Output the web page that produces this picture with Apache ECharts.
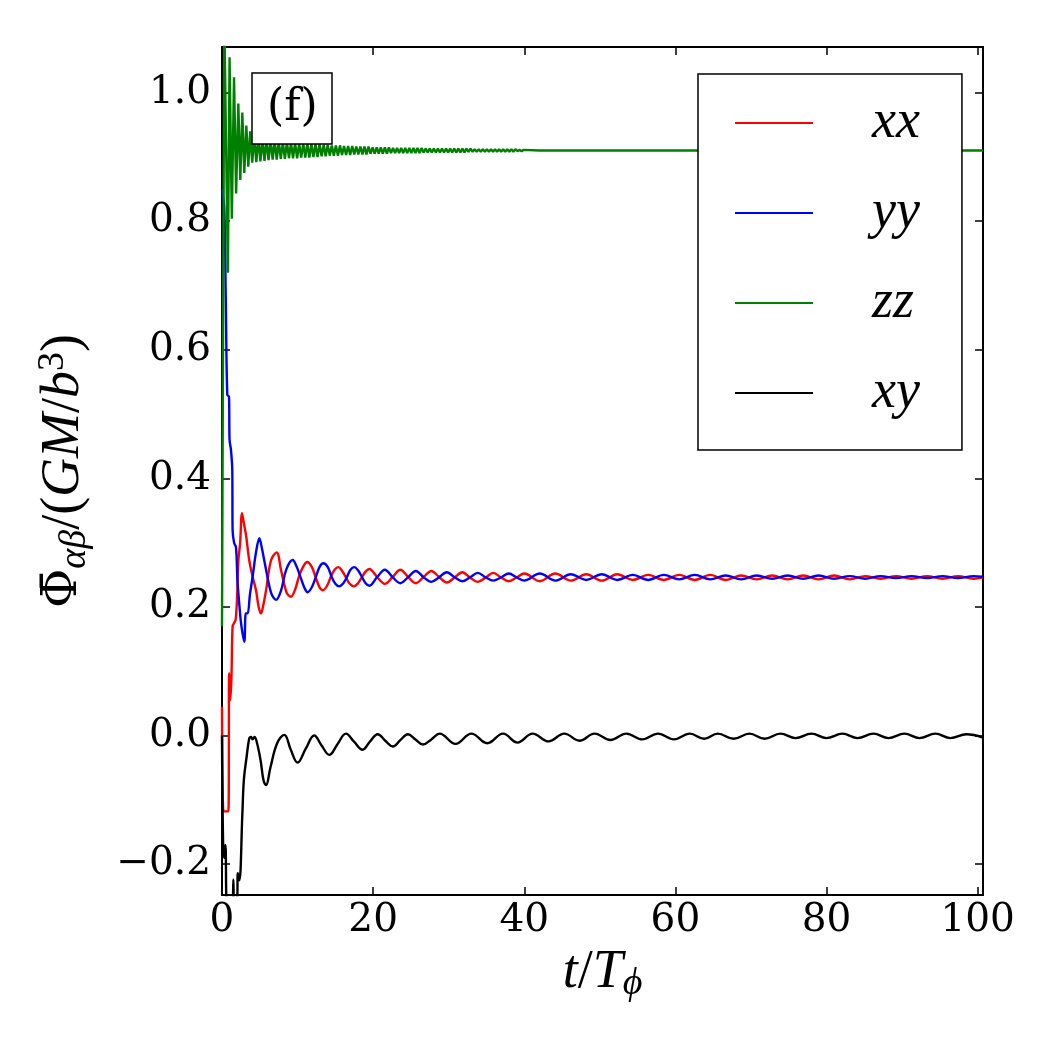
<!DOCTYPE html>
<html>
<head>
<meta charset="utf-8">
<script src="https://cdn.jsdelivr.net/npm/echarts@6/dist/echarts.min.js"></script>
<style>
html, body { margin: 0; padding: 0; background: #fff; }
#chart { width: 1050px; height: 1050px; }
</style>
</head>
<body>
<div id="chart"></div>
<script>
var seriesNames = ['xx', 'yy', 'zz', 'xy'];
var seriesColors = ['#ff0000', '#0000ff', '#008000', '#000000'];
var xTicks = [0, 20, 40, 60, 80, 100];
var yTicks = [-0.2, 0.0, 0.2, 0.4, 0.6, 0.8, 1.0];

// [t/T_phi, value]
var xxData = [
	[0, 0.045], [0.2, -0.118], [0.5, -0.118], [0.85, -0.118], [0.95, 0.097], [1.1, 0.055], [1.25, 0.09],
	[1.4, 0.170], [1.6, 0.175], [1.8, 0.180], [2.0, 0.215], [2.15, 0.270], [2.4, 0.300], [2.65, 0.346],
	[2.9, 0.330], [3.2, 0.310], [3.6, 0.273], [4.05, 0.247], [4.5, 0.226], [4.85, 0.200], [5.16, 0.190],
	[5.5, 0.205], [5.83, 0.226], [6.5, 0.273], [7.24, 0.285], [7.8, 0.258], [8.56, 0.222], [9.13, 0.216],
	[9.7, 0.228], [10.2, 0.248], [10.8, 0.264], [11.3, 0.270], [11.9, 0.262], [12.4, 0.246], [12.9, 0.231],
	[13.35, 0.226], [13.9, 0.233], [14.4, 0.247], [14.9, 0.258], [15.4, 0.262], [15.9, 0.256], [16.4, 0.246],
	[16.9, 0.236], [17.45, 0.232], [18.0, 0.237], [18.5, 0.246], [19.0, 0.255], [19.5, 0.259], [20.5, 0.247],
	[21.55, 0.236], [22.6, 0.247], [23.6, 0.258], [24.6, 0.247], [25.65, 0.237], [26.7, 0.247], [27.7, 0.256],
	[28.7, 0.247], [29.75, 0.238], [30.8, 0.246], [31.8, 0.254], [32.8, 0.246], [33.85, 0.239], [34.9, 0.246],
	[35.9, 0.253], [36.9, 0.246], [37.95, 0.240], [39.0, 0.246], [40.0, 0.252], [42.05, 0.240], [44.1, 0.252],
	[46.15, 0.241], [48.2, 0.251], [50.25, 0.241], [52.3, 0.251], [54.35, 0.242], [56.4, 0.250], [58.45, 0.242],
	[60.5, 0.250], [62.55, 0.242], [64.6, 0.250], [66.65, 0.242], [68.7, 0.249], [70.75, 0.243], [72.8, 0.249],
	[74.85, 0.243], [76.9, 0.249], [78.95, 0.243], [81.0, 0.249], [83.05, 0.243], [85.1, 0.248], [87.15, 0.244],
	[89.2, 0.248], [91.25, 0.244], [93.3, 0.248], [95.35, 0.244], [97.4, 0.248], [99.45, 0.244], [100.7, 0.246]
];

var yyData = [
	[0, 0.85], [0.3, 0.82], [0.5, 0.68], [0.7, 0.53], [0.93, 0.527], [1.0, 0.46], [1.19, 0.444], [1.36, 0.413],
	[1.4, 0.32], [1.6, 0.30], [1.85, 0.293], [2.05, 0.24], [2.25, 0.21], [2.52, 0.175], [2.95, 0.146],
	[3.15, 0.19], [3.39, 0.19], [3.7, 0.22], [4.05, 0.247], [4.5, 0.285], [4.94, 0.307], [5.3, 0.29],
	[5.83, 0.258], [6.5, 0.222], [7.15, 0.211], [7.8, 0.225], [8.5, 0.258], [9.35, 0.273], [9.9, 0.262],
	[10.4, 0.246], [10.9, 0.230], [11.34, 0.223], [11.9, 0.231], [12.4, 0.246], [12.9, 0.262], [13.42, 0.268],
	[14.0, 0.262], [14.5, 0.247], [15.0, 0.236], [15.5, 0.232], [16.0, 0.236], [16.5, 0.246], [17.0, 0.258],
	[17.5, 0.262], [18.0, 0.257], [18.5, 0.247], [19.0, 0.237], [19.5, 0.233], [20.5, 0.246], [21.55, 0.258],
	[22.6, 0.246], [23.6, 0.237], [24.6, 0.246], [25.65, 0.256], [26.7, 0.246], [27.7, 0.239], [28.7, 0.246],
	[29.75, 0.254], [30.8, 0.246], [31.8, 0.240], [32.8, 0.246], [33.85, 0.253], [34.9, 0.246], [35.9, 0.241],
	[36.9, 0.246], [37.95, 0.252], [39.0, 0.246], [40.0, 0.241], [42.05, 0.252], [44.1, 0.241], [46.15, 0.251],
	[48.2, 0.242], [50.25, 0.251], [52.3, 0.242], [54.35, 0.250], [56.4, 0.242], [58.45, 0.250], [60.5, 0.243],
	[62.55, 0.250], [64.6, 0.243], [66.65, 0.249], [68.7, 0.243], [70.75, 0.249], [72.8, 0.244], [74.85, 0.249],
	[76.9, 0.244], [78.95, 0.249], [81.0, 0.244], [83.05, 0.248], [85.1, 0.244], [87.15, 0.248], [89.2, 0.245],
	[91.25, 0.248], [93.3, 0.245], [95.35, 0.248], [97.4, 0.245], [99.45, 0.248], [100.7, 0.247]
];

var zzData = [
	[0, 0.17], [0.3, 1.12], [0.78, 0.72], [1.0, 1.055], [1.3, 0.804], [1.59, 1.024], [1.87, 0.843], [2.16, 0.983],
	[2.42, 0.864], [2.69, 0.969], [2.95, 0.875], [3.22, 0.949], [3.48, 0.885], [3.73, 0.940],
	[4.00, 0.891], [4.27, 0.932], [4.54, 0.892], [4.81, 0.930], [5.08, 0.893], [5.35, 0.928], [5.62, 0.894], [5.89, 0.927], [6.16, 0.895], [6.43, 0.926],
	[6.70, 0.896], [6.97, 0.925], [7.24, 0.896], [7.51, 0.924], [7.78, 0.897], [8.05, 0.923], [8.32, 0.897], [8.59, 0.923], [8.86, 0.898], [9.13, 0.922],
	[9.40, 0.898], [9.67, 0.922], [9.94, 0.898], [10.21, 0.921], [10.48, 0.899], [10.75, 0.921], [11.02, 0.899], [11.29, 0.921], [11.56, 0.899], [11.83, 0.920],
	[12.10, 0.900], [12.37, 0.920], [12.64, 0.900], [12.91, 0.920], [13.18, 0.901], [13.45, 0.919], [13.72, 0.901], [13.99, 0.919], [14.26, 0.902], [14.53, 0.918],
	[14.80, 0.902], [15.07, 0.918], [15.34, 0.902], [15.61, 0.918], [15.88, 0.903], [16.15, 0.917], [16.42, 0.903], [16.69, 0.917], [16.96, 0.903], [17.23, 0.917],
	[17.50, 0.904], [17.77, 0.916], [18.04, 0.904], [18.31, 0.916], [18.58, 0.904], [18.85, 0.916], [19.12, 0.904], [19.39, 0.916], [19.66, 0.905], [19.93, 0.915],
	[20.20, 0.905], [20.47, 0.915], [20.74, 0.905], [21.01, 0.915], [21.28, 0.905], [21.55, 0.915], [21.82, 0.905], [22.09, 0.915], [22.36, 0.906], [22.63, 0.914],
	[22.90, 0.906], [23.17, 0.914], [23.44, 0.906], [23.71, 0.914], [23.98, 0.906], [24.25, 0.914], [24.52, 0.906], [24.79, 0.914], [25.06, 0.906], [25.33, 0.914],
	[25.60, 0.906], [25.87, 0.914], [26.14, 0.906], [26.41, 0.914], [26.68, 0.907], [26.95, 0.913], [27.22, 0.907], [27.49, 0.913], [27.76, 0.907], [28.03, 0.913],
	[28.30, 0.907], [28.57, 0.913], [28.84, 0.907], [29.11, 0.913], [29.38, 0.907], [29.65, 0.913], [29.92, 0.907], [30.19, 0.913], [30.46, 0.907], [30.73, 0.913],
	[31.00, 0.907], [31.27, 0.913], [31.54, 0.907], [31.81, 0.913], [32.08, 0.907], [32.35, 0.913], [32.62, 0.908], [32.89, 0.913], [33.16, 0.908], [33.43, 0.912],
	[33.70, 0.908], [33.97, 0.912], [34.24, 0.908], [34.51, 0.912], [34.78, 0.908], [35.05, 0.912], [35.32, 0.908], [35.59, 0.912], [35.86, 0.908], [36.13, 0.912],
	[36.40, 0.908], [36.67, 0.912], [36.94, 0.908], [37.21, 0.912], [37.48, 0.908], [37.75, 0.912], [38.02, 0.908], [38.29, 0.912], [38.56, 0.908], [38.83, 0.912],
	[39.10, 0.909], [39.37, 0.911], [39.64, 0.909], [39.91, 0.911],
	[42, 0.910], [50, 0.910], [62, 0.910], [80, 0.910], [100.7, 0.910]
];

var xyData = [
	[0, 0.0], [0.15, -0.17], [0.3, -0.19], [0.45, -0.17], [0.7, -0.27], [1.4, -0.27], [1.5, -0.224], [1.65, -0.27],
	[2.0, -0.26], [2.1, -0.214], [2.3, -0.225], [2.7, -0.12], [2.9, -0.068], [3.26, -0.033], [3.6, -0.005],
	[3.85, -0.002], [4.05, -0.006], [4.3, -0.002], [4.6, -0.01], [5.1, -0.038], [5.5, -0.07], [5.83, -0.077],
	[6.4, -0.05], [7.3, -0.012], [8.25, 0.001], [9.1, -0.022], [10.0, -0.042], [11.1, -0.02], [12.2, 0.0],
	[13.2, -0.016], [14.2, -0.03], [15.3, -0.013], [16.4, 0.003], [17.5, -0.01], [18.6, -0.022], [19.6, -0.009],
	[20.6, 0.002], [21.6, -0.008], [22.6, -0.017], [23.6, -0.007], [24.6, 0.002], [25.6, -0.006], [26.6, -0.014],
	[27.7, -0.006], [28.8, 0.003], [30.9, -0.013], [33.0, 0.003], [35.1, -0.012], [37.2, 0.003], [39.1, -0.011],
	[41.1, 0.003], [43.2, -0.009], [45.3, 0.003], [47.3, -0.008], [49.3, 0.003], [51.4, -0.007], [53.5, 0.003],
	[55.6, -0.006], [57.7, 0.003], [59.8, -0.006], [61.9, 0.003], [63.8, -0.005], [65.6, 0.003], [67.7, -0.005],
	[69.8, 0.003], [71.8, -0.005], [73.9, 0.003], [75.9, -0.004], [78.0, 0.003], [80.0, -0.004], [82.1, 0.003],
	[84.1, -0.004], [86.2, 0.003], [88.2, -0.004], [90.3, 0.003], [92.3, -0.004], [94.4, 0.003], [96.4, -0.004],
	[98.5, 0.002], [100.7, -0.003]
];

var chart = echarts.init(document.getElementById('chart'));

var axisLineStyle = { color: '#000', width: 2 };
var tickFont = { fontFamily: 'DejaVu Serif', fontSize: 39, color: '#000' };
var mathRich = {
	it: { fontFamily: 'Liberation Serif', fontStyle: 'italic', fontSize: 54, lineHeight: 60, color: '#000' },
	n: { fontFamily: 'Liberation Serif', fontSize: 54, lineHeight: 60, color: '#000' },
	bar: { fontFamily: 'DejaVu Serif', fontSize: 48, lineHeight: 60, color: '#000' },
	sub: { fontFamily: 'Liberation Serif', fontStyle: 'italic', fontSize: 38, lineHeight: 38, verticalAlign: 'bottom', color: '#000' },
	sup: { fontFamily: 'Liberation Serif', fontSize: 38, lineHeight: 38, verticalAlign: 'top', color: '#000' }
};

function yFmt(v) {
	return (v < -1e-9 ? '\u2212' : '') + Math.abs(v).toFixed(1);
}

var smoothing = [0.35, 0.35, false, 0.4];
var datasets = [xxData, yyData, zzData, xyData];

option = {
	animation: false,
	backgroundColor: '#fff',
	title: {
		text: '(f)',
		left: 252,
		top: 73,
		padding: [12, 15, 12, 15],
		backgroundColor: '#fff',
		borderColor: '#000',
		borderWidth: 1.5,
		textStyle: { fontFamily: 'DejaVu Serif', fontSize: 44, fontWeight: 'normal', color: '#000', lineHeight: 47 }
	},
	legend: {
		orient: 'vertical',
		left: 698,
		top: 74,
		padding: [22, 42, 30, 37],
		itemGap: 36,
		itemWidth: 78,
		itemHeight: 2,
		icon: 'rect',
		backgroundColor: '#fff',
		borderColor: '#000',
		borderWidth: 1.5,
		selectedMode: false,
		textStyle: {
			fontFamily: 'Liberation Serif', fontStyle: 'italic', fontSize: 54, lineHeight: 44,
			color: '#000', padding: [0, 0, 0, 54]
		},
		data: seriesNames
	},
	grid: { left: 222, right: 67, top: 47, bottom: 155 },
	xAxis: [{
		type: 'value', min: 0, max: 100.7, position: 'bottom',
		axisLine: { onZero: false, lineStyle: axisLineStyle },
		axisTick: { inside: true, length: 8, customValues: xTicks, lineStyle: { color: '#000', width: 1.5 } },
		axisLabel: Object.assign({ customValues: xTicks, margin: 6 }, tickFont),
		splitLine: { show: false },
		name: '{it|t}{n|/}{it|T}{sub|\u03d5}',
		nameLocation: 'middle',
		nameGap: 48,
		nameTextStyle: { rich: mathRich }
	}, {
		type: 'value', min: 0, max: 100.7, position: 'top',
		axisLine: { onZero: false, lineStyle: axisLineStyle },
		axisTick: { inside: true, length: 8, customValues: xTicks, lineStyle: { color: '#000', width: 1.5 } },
		axisLabel: { show: false },
		splitLine: { show: false }
	}],
	yAxis: [{
		type: 'value', min: -0.248, max: 1.071, position: 'left',
		axisLine: { onZero: false, lineStyle: axisLineStyle },
		axisTick: { inside: true, length: 8, customValues: yTicks, lineStyle: { color: '#000', width: 1.5 } },
		axisLabel: Object.assign({ customValues: yTicks, margin: 11, formatter: yFmt }, tickFont),
		splitLine: { show: false },
		name: '{bar|\u03a6\u0304}{sub|\u03b1\u03b2}{n|/(}{it|GM}{n|/}{it|b}{sup|3}{n|)}',
		nameLocation: 'middle',
		nameRotate: 90,
		nameGap: 128,
		nameTextStyle: { rich: mathRich }
	}, {
		type: 'value', min: -0.248, max: 1.071, position: 'right',
		axisLine: { onZero: false, lineStyle: axisLineStyle },
		axisTick: { inside: true, length: 8, customValues: yTicks, lineStyle: { color: '#000', width: 1.5 } },
		axisLabel: { show: false },
		splitLine: { show: false }
	}],
	series: seriesNames.map(function (name, i) {
		return {
			name: name,
			type: 'line',
			xAxisIndex: 0,
			yAxisIndex: 0,
			data: datasets[i],
			color: seriesColors[i],
			showSymbol: false,
			symbol: 'none',
			smooth: smoothing[i],
			lineStyle: { width: 2.4, color: seriesColors[i] },
			emphasis: { disabled: true }
		};
	})
};
chart.setOption(option);
window.addEventListener("resize", function() {
	chart.resize();
});
</script>
</body>
</html>
